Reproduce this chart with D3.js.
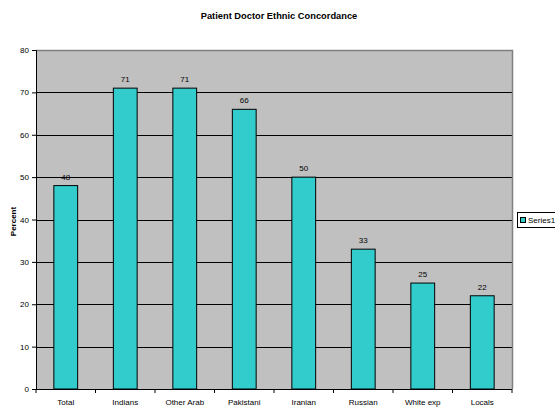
<!DOCTYPE html>
<html>
<head>
<meta charset="utf-8">
<script src="https://cdn.jsdelivr.net/npm/d3@7"></script>
<style>
  html, body { margin: 0; padding: 0; background: #fff; }
  svg { display: block; font-family: "Liberation Sans", Arial, sans-serif; }
</style>
</head>
<body>
<svg id="chart" width="555" height="407"></svg>
<script>
// Share of patients whose doctor shares their ethnicity
const categories = ["Total", "Indians", "Other Arab", "Pakistani", "Iranian", "Russian", "White exp", "Locals"];
const series1 = [48, 71, 71, 66, 50, 33, 25, 22];
const yTicks = [0, 10, 20, 30, 40, 50, 60, 70, 80];
const seriesName = "Series1";

const svg = d3.select("#chart");
const plot = { left: 36, right: 512, top: 50, bottom: 389 };

const x = d3.scaleBand().domain(categories).range([plot.left, plot.right]).padding(0);
const y = d3.scaleLinear().domain([0, 80]).range([plot.bottom, plot.top]);

// Plot background
svg.append("rect")
  .attr("x", plot.left).attr("y", plot.top)
  .attr("width", plot.right - plot.left).attr("height", plot.bottom - plot.top)
  .attr("fill", "#c0c0c0");

// Horizontal gridlines
svg.append("g").selectAll("line")
  .data(yTicks.filter(d => d > 0 && d < 80))
  .join("line")
  .attr("x1", plot.left).attr("x2", plot.right)
  .attr("y1", d => Math.round(y(d)) + 0.5).attr("y2", d => Math.round(y(d)) + 0.5)
  .attr("stroke", "#000").attr("stroke-width", 1);

// Plot border (top and right)
svg.append("path")
  .attr("d", `M${plot.left},${plot.top + 0.5}H${plot.right + 0.5}V${plot.bottom}`)
  .attr("fill", "none").attr("stroke", "#808080").attr("stroke-width", 1.5);

// Bars
const barW = x.bandwidth() * 0.4;
svg.append("g").selectAll("rect")
  .data(categories.map((c, i) => ({ c, v: series1[i] })))
  .join("rect")
  .attr("x", d => x(d.c) + (x.bandwidth() - barW) / 2)
  .attr("y", d => y(d.v))
  .attr("width", barW)
  .attr("height", d => y(0) - y(d.v))
  .attr("fill", "#33cccc")
  .attr("stroke", "#000").attr("stroke-width", 1);

// Value labels
svg.append("g").selectAll("text")
  .data(categories.map((c, i) => ({ c, v: series1[i] })))
  .join("text")
  .attr("x", d => x(d.c) + x.bandwidth() / 2)
  .attr("y", d => y(d.v) - 6)
  .attr("text-anchor", "middle")
  .attr("font-size", 8)
  .attr("fill", "#000")
  .text(d => d.v);

// Y axis
const yAxis = d3.axisLeft(y).tickValues(yTicks).tickSize(4).tickPadding(3);
const gy = svg.append("g").attr("transform", `translate(${plot.left},0)`).call(yAxis);
gy.select(".domain").attr("stroke", "#000");
gy.selectAll(".tick line").attr("stroke", "#000");
gy.selectAll("text").attr("font-size", 8).attr("fill", "#000");

// X axis with ticks on category boundaries
const gx = svg.append("g").attr("transform", `translate(0,${plot.bottom})`);
gx.append("line")
  .attr("x1", plot.left).attr("x2", plot.right)
  .attr("y1", 0.5).attr("y2", 0.5).attr("stroke", "#000");
gx.selectAll("line.tk")
  .data(d3.range(categories.length + 1))
  .join("line").attr("class", "tk")
  .attr("x1", i => i < categories.length ? x(categories[i]) : plot.right)
  .attr("x2", i => i < categories.length ? x(categories[i]) : plot.right)
  .attr("y1", 0).attr("y2", 4).attr("stroke", "#000");
gx.selectAll("text")
  .data(categories)
  .join("text")
  .attr("x", d => x(d) + x.bandwidth() / 2)
  .attr("y", 16)
  .attr("text-anchor", "middle")
  .attr("font-size", 8)
  .attr("fill", "#000")
  .text(d => d);

// Title
svg.append("text")
  .attr("x", 279).attr("y", 19)
  .attr("text-anchor", "middle")
  .attr("font-size", 9.3).attr("font-weight", "bold")
  .text("Patient Doctor Ethnic Concordance");

// Y axis title
svg.append("text")
  .attr("transform", `translate(16,${(plot.top + plot.bottom) / 2 + 2}) rotate(-90)`)
  .attr("text-anchor", "middle")
  .attr("font-size", 8).attr("font-weight", "bold")
  .text("Percent");

// Legend
const lg = svg.append("g").attr("transform", "translate(517,212)");
lg.append("rect").attr("x", 0.5).attr("y", 0.5).attr("width", 50).attr("height", 15)
  .attr("fill", "#fff").attr("stroke", "#000");
lg.append("rect").attr("x", 3.5).attr("y", 5.5).attr("width", 5).attr("height", 5)
  .attr("fill", "#33cccc").attr("stroke", "#000");
lg.append("text").attr("x", 11).attr("y", 11).attr("font-size", 8).text(seriesName);
</script>
</body>
</html>
